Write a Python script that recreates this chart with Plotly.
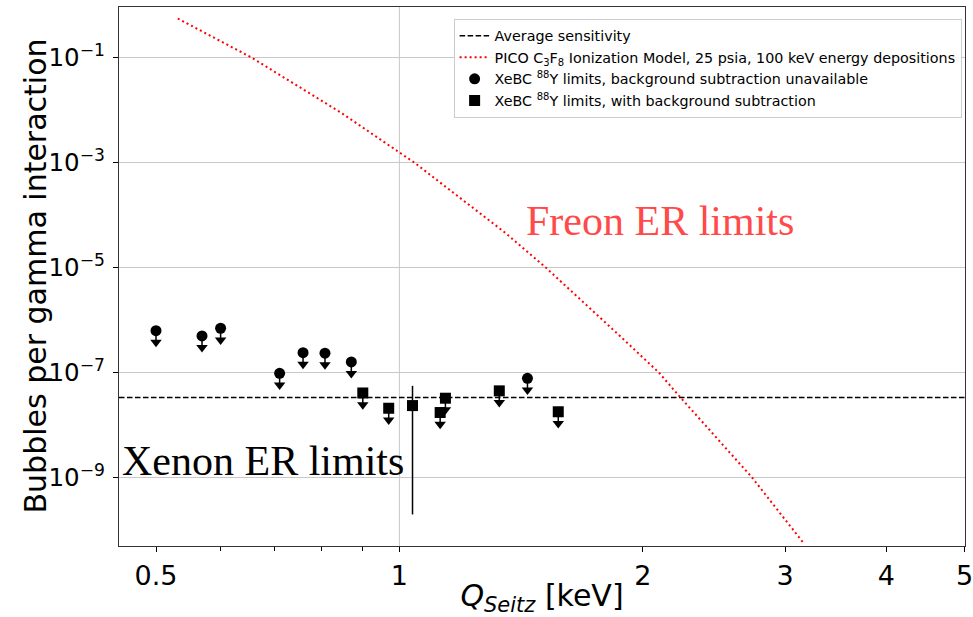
import numpy as np
import plotly.graph_objects as go

# ---------------- data ----------------
avg_sensitivity = 3.35e-8

pico_x = [0.532, 0.656, 0.847, 1.0, 1.043, 1.354, 1.517, 1.878, 2.094, 2.227, 2.731, 3.162]
pico_y = [0.55, 1.0e-1, 8.85e-3, 1.6e-3, 1.0e-3, 4.5e-5, 1.0e-5, 4.83e-7, 1.0e-7, 3.35e-8, 1.0e-9, 5.66e-11]

circ_x = [0.500, 0.570, 0.601, 0.711, 0.760, 0.809, 0.872, 1.440]
circ_y = [6.3e-7, 5.0e-7, 7.0e-7, 9.7e-8, 2.4e-7, 2.35e-7, 1.6e-7, 7.8e-8]

sq_lim_x = [0.901, 0.970, 1.123, 1.140, 1.329, 1.572]
sq_lim_y = [4.1e-8, 2.1e-8, 1.74e-8, 3.26e-8, 4.5e-8, 1.8e-8]

sq_meas_x = [1.038]
sq_meas_y = [2.36e-8]
sq_meas_err_up = [3.24e-8]
sq_meas_err_down = [2.34e-8]

x_tickvals = [0.5, 1, 2, 3, 4, 5]
x_ticktext = ["0.5", "1", "2", "3", "4", "5"]
x_minor = [0.6, 0.7, 0.8, 0.9]
y_tickvals = [1e-9, 1e-7, 1e-5, 1e-3, 1e-1]
y_ticktext = ["10<sup>\u22129</sup>", "10<sup>\u22127</sup>", "10<sup>\u22125</sup>",
              "10<sup>\u22123</sup>", "10<sup>\u22121</sup>"]

# ---------------- style ----------------
FONT = "DejaVu Sans"
SERIF = "Liberation Serif"
ARROW_FRAC = 0.6  # arrow of upper-limit drawn at this fraction of the limit value
X_RANGE = [0.45, 5.0]
W, H = 973, 617
ML, MR, MT, MB = 119, 8, 7, 71

fig = go.Figure()

# average sensitivity
fig.add_trace(go.Scatter(
    x=X_RANGE, y=[avg_sensitivity, avg_sensitivity], mode="lines",
    line=dict(color="black", width=1.5, dash="5.5px,2.5px"),
    name="Average sensitivity"))

# PICO model
fig.add_trace(go.Scatter(
    x=pico_x, y=pico_y, mode="lines",
    line=dict(color="red", width=2, dash="2px,3px"),
    name="PICO C<sub>3</sub>F<sub>8</sub> Ionization Model, 25 psia, 100 keV energy depositions"))


def add_limits(xs, ys, symbol, name):
    ys = np.array(ys)
    arrow = ys * ARROW_FRAC
    fig.add_trace(go.Scatter(
        x=xs, y=arrow, mode="markers", showlegend=False, hoverinfo="skip",
        marker=dict(symbol="triangle-down", size=10, color="black")))
    fig.add_trace(go.Scatter(
        x=xs, y=ys, mode="markers", name=name, showlegend=name is not None,
        marker=dict(symbol=symbol, size=11, color="black"),
        error_y=dict(type="data", symmetric=False, array=[0] * len(xs),
                     arrayminus=list(ys - arrow), color="black", thickness=1.5, width=0)))


add_limits(circ_x, circ_y, "circle",
           "XeBC <sup>88</sup>Y limits, background subtraction unavailable")
add_limits(sq_lim_x, sq_lim_y, "square",
           "XeBC <sup>88</sup>Y limits, with background subtraction")

fig.add_trace(go.Scatter(
    x=sq_meas_x, y=sq_meas_y, mode="markers", showlegend=False,
    marker=dict(symbol="square", size=11, color="black"),
    error_y=dict(type="data", symmetric=False, array=sq_meas_err_up,
                 arrayminus=sq_meas_err_down, color="black", thickness=1.5, width=0)))

# gridline at x = 1 (major decade)
fig.add_shape(type="line", xref="x", yref="paper", x0=1, x1=1, y0=0, y1=1,
              line=dict(color="#c8c8c8", width=1), layer="below")

fig.add_annotation(x=np.log10(2.10), y=-4.12, xref="x", yref="y",
                   text="Freon ER limits", showarrow=False,
                   font=dict(family=SERIF, size=42, color="#ff4a4a"))
fig.add_annotation(x=np.log10(0.679), y=-8.68, xref="x", yref="y",
                   text="Xenon ER limits", showarrow=False,
                   font=dict(family=SERIF, size=42, color="black"))

# y-axis title (placed as annotation so it can sit close to the tick labels)
fig.add_annotation(x=-(ML - 35) / (W - ML - MR), y=0.5, xref="paper", yref="paper",
                   xanchor="center", yanchor="middle", textangle=-90,
                   text="Bubbles per gamma interaction", showarrow=False,
                   font=dict(family=FONT, size=30, color="black"))

fig.update_layout(
    width=W, height=H,
    margin=dict(l=ML, r=MR, t=MT, b=MB, autoexpand=False),
    plot_bgcolor="white", paper_bgcolor="white",
    font=dict(family=FONT, color="black"),
    showlegend=True,
    legend=dict(x=0.996, y=0.978, xanchor="right", yanchor="top",
                bgcolor="rgba(255,255,255,0.85)", bordercolor="#cccccc", borderwidth=1,
                font=dict(family=FONT, size=14.3, color="black"),
                tracegroupgap=0, itemwidth=30),
    xaxis=dict(type="log", range=[np.log10(X_RANGE[0]), np.log10(X_RANGE[1]) + 0.0005],
               tickvals=x_tickvals, ticktext=x_ticktext, automargin=False,
               ticklabeloverflow="allow",
               ticks="outside", ticklen=5, tickcolor="black", tickwidth=1,
               tickfont=dict(size=27),
               minor=dict(tickvals=x_minor, ticks="outside", ticklen=4, tickcolor="black"),
               showgrid=False, zeroline=False,
               showline=True, linecolor="#333333", linewidth=1.2, mirror=True,
               title=dict(text="<i>Q<sub>Seitz</sub></i> [keV]", font=dict(size=30), standoff=2)),
    yaxis=dict(type="log", range=[-10.3, -0.04], automargin=False,
               tickvals=y_tickvals, ticktext=y_ticktext, ticklabelstandoff=3,
               ticks="outside", ticklen=5, tickcolor="black", tickwidth=1,
               tickfont=dict(size=24.5),
               showgrid=True, gridcolor="#c8c8c8", gridwidth=1, zeroline=False,
               showline=True, linecolor="#333333", linewidth=1.2, mirror=True),
)

fig.write_html("out.html", post_script="document.body.style.margin='0';",
               config={"displayModeBar": False})
